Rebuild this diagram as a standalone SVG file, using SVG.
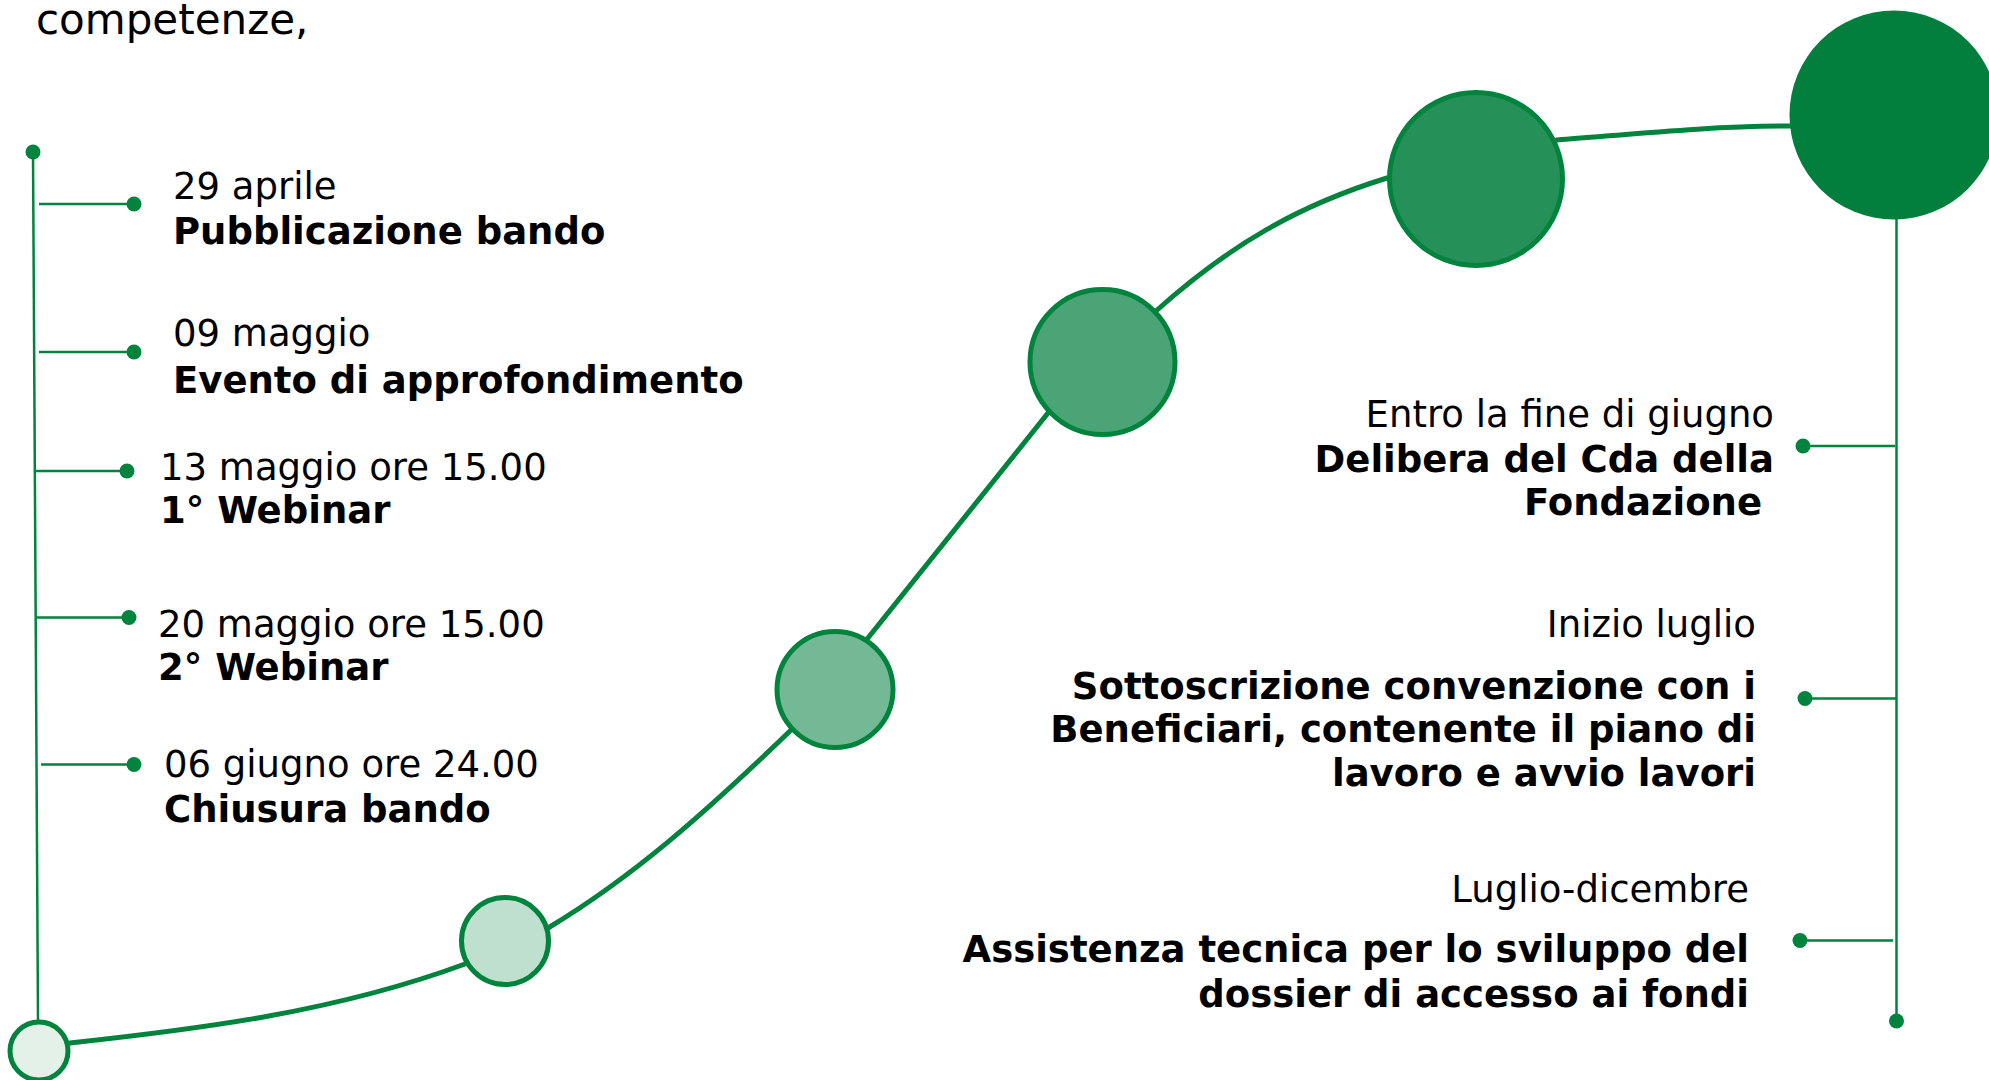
<svg xmlns="http://www.w3.org/2000/svg" width="1989" height="1080" viewBox="0 0 1989 1080">
<style>
.t{font-family:"DejaVu Sans","Verdana",sans-serif;font-size:37px;fill:#000}
.b{font-weight:bold}
.e{text-anchor:end}
.thin{stroke:#00843D;stroke-width:2.5;fill:none}
.dot{fill:#00843D}
.curve{stroke:#00843D;stroke-width:5;fill:none}
.node{stroke:#00843D;stroke-width:5}
</style>
<rect width="1989" height="1080" fill="#fff"/>
<text class="t" x="36" y="34" style="font-size:42px">competenze,</text>

<g id="connectors">
<path class="curve" d="M39 1051 L70 1043 C200 1029 335 1012 465 964 L505 941 L548 928 C633 877 705 813 790 731 L835 689 L868 638 L1048 413 L1102 362 L1156 311 C1232 243 1300 205 1387 178 L1476 179 L1557 140 C1635 134 1710 126 1791 126 L1894 115"/>
<path class="thin" d="M33 152 L38 1022"/>
<path class="thin" d="M39 204 H134 M39 352 H134 M34 471 H127 M37 617.5 H129 M41 764.5 H134"/>
<path class="thin" d="M1896.5 219 V1021"/>
<path class="thin" d="M1803 446 H1895 M1805 698.5 H1896 M1800 940.5 H1893"/>
<circle class="dot" cx="33" cy="152" r="7.5"/>
<circle class="dot" cx="134" cy="204" r="7.5"/>
<circle class="dot" cx="134" cy="352" r="7.5"/>
<circle class="dot" cx="127" cy="471" r="7.5"/>
<circle class="dot" cx="129" cy="617.5" r="7.5"/>
<circle class="dot" cx="134" cy="764.5" r="7.5"/>
<circle class="dot" cx="1803" cy="446" r="7.5"/>
<circle class="dot" cx="1805" cy="698.5" r="7.5"/>
<circle class="dot" cx="1800" cy="940.5" r="7.5"/>
<circle class="dot" cx="1896.5" cy="1021" r="7.5"/>
</g>

<g id="node1"><circle class="node" cx="39" cy="1051" r="29" fill="#E3F1E8"/></g>
<g id="node2"><circle class="node" cx="505" cy="941" r="43.5" fill="#BFE0CF"/></g>
<g id="node3"><circle class="node" cx="835" cy="689.5" r="58" fill="#74B995"/></g>
<g id="node4"><circle class="node" cx="1102.5" cy="362" r="72.5" fill="#4BA475"/></g>
<g id="node5"><circle class="node" cx="1476" cy="179" r="86.5" fill="#259158"/></g>
<g id="node6"><circle cx="1894" cy="115" r="104.5" fill="#037F3D"/></g>

<g id="event1"><text class="t" x="173" y="199">29 aprile</text><text class="t b" x="173" y="244">Pubblicazione bando</text></g>
<g id="event2"><text class="t" x="173" y="346">09 maggio</text><text class="t b" x="173" y="392.5">Evento di approfondimento</text></g>
<g id="event3"><text class="t" x="160" y="480">13 maggio ore 15.00</text><text class="t b" x="160" y="523">1° Webinar</text></g>
<g id="event4"><text class="t" x="158" y="636.5">20 maggio ore 15.00</text><text class="t b" x="158" y="679.5">2° Webinar</text></g>
<g id="event5"><text class="t" x="164" y="777">06 giugno ore 24.00</text><text class="t b" x="164" y="822">Chiusura bando</text></g>

<g id="event6"><text class="t e" x="1774" y="427">Entro la fine di giugno</text><text class="t b e" x="1774" y="472">Delibera del Cda della</text><text class="t b e" x="1762" y="515">Fondazione</text></g>
<g id="event7"><text class="t e" x="1756" y="636.5">Inizio luglio</text><text class="t b e" x="1756" y="698.5">Sottoscrizione convenzione con i</text><text class="t b e" x="1756" y="741.5">Beneficiari, contenente il piano di</text><text class="t b e" x="1756" y="786">lavoro e avvio lavori</text></g>
<g id="event8"><text class="t e" x="1749" y="901.5">Luglio-dicembre</text><text class="t b e" x="1749" y="962">Assistenza tecnica per lo sviluppo del</text><text class="t b e" x="1749" y="1006.5">dossier di accesso ai fondi</text></g>
</svg>
